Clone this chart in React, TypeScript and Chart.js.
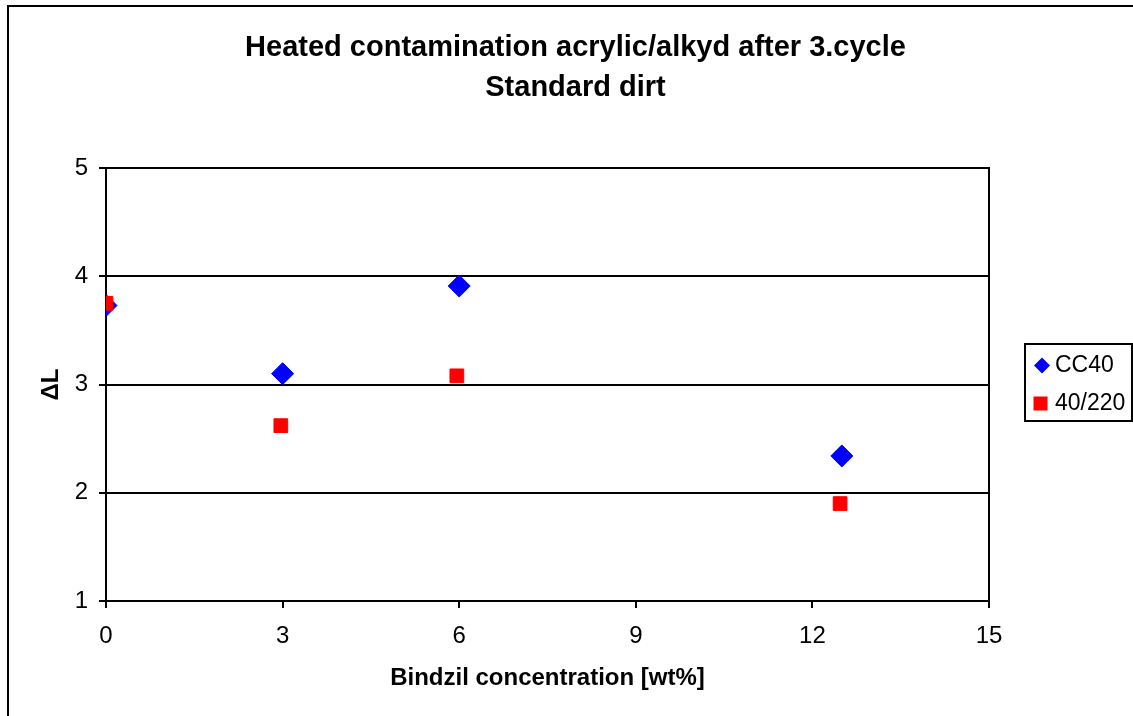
import React, { useEffect, useRef } from 'react';
import { Chart, registerables } from 'chart.js';

Chart.register(...registerables);

const FONT = "'Liberation Sans', Arial, sans-serif";

const titleLines = ['Heated contamination acrylic/alkyd after 3.cycle', 'Standard dirt'];
const xAxisTitle = 'Bindzil concentration [wt%]';
const yAxisTitle = 'ΔL';

const seriesNames = ['CC40', '40/220'];
const seriesColors = ['#0000FF', '#FF0000'];

const cc40X = [0, 3, 6, 12.5];
const cc40Y = [3.73, 3.1, 3.91, 2.34];
const s40220X = [0, 2.97, 5.96, 12.47];
const s40220Y = [3.75, 2.62, 3.08, 1.9];

const xMin = 0;
const xMax = 15;
const xStep = 3;
const yMin = 1;
const yMax = 5;
const yStep = 1;

const toPoints = (xs: number[], ys: number[]) => xs.map((x, i) => ({ x, y: ys[i] }));

const framePlugin = {
  id: 'frame',
  beforeDraw(chart: any) {
    const { ctx, width, height } = chart;
    ctx.save();
    ctx.fillStyle = '#ffffff';
    ctx.fillRect(0, 0, width, height);
    ctx.strokeStyle = '#000000';
    ctx.lineWidth = 2;
    ctx.beginPath();
    ctx.moveTo(8, height + 2);
    ctx.lineTo(8, 6);
    ctx.lineTo(width + 2, 6);
    ctx.stroke();
    ctx.restore();
  },
  beforeDatasetsDraw(chart: any) {
    const { ctx, chartArea } = chart;
    ctx.save();
    ctx.strokeStyle = '#000000';
    ctx.lineWidth = 2;
    ctx.beginPath();
    const r = Math.round(chartArea.right);
    ctx.moveTo(r, chartArea.top - 1);
    ctx.lineTo(r, chartArea.bottom + 7);
    ctx.stroke();
    ctx.restore();
  },
  afterDraw(chart: any) {
    const { ctx } = chart;
    const boxL = 1025;
    const boxT = 344;
    const boxW = 107;
    const boxH = 77;
    ctx.save();
    ctx.fillStyle = '#ffffff';
    ctx.fillRect(boxL, boxT, boxW, boxH);
    ctx.strokeStyle = '#000000';
    ctx.lineWidth = 2;
    ctx.strokeRect(boxL, boxT, boxW, boxH);
    const rowY = [365.5, 403.5];
    chart.data.datasets.forEach((ds: any, i: number) => {
      const cy = rowY[i];
      ctx.fillStyle = ds.backgroundColor;
      if (ds.pointStyle === 'rectRot') {
        const cx = 1042;
        const r = 8;
        ctx.beginPath();
        ctx.moveTo(cx - r, cy);
        ctx.lineTo(cx, cy - r);
        ctx.lineTo(cx + r, cy);
        ctx.lineTo(cx, cy + r);
        ctx.closePath();
        ctx.fill();
      } else {
        const cx = 1040.5;
        const s = 7;
        ctx.fillRect(cx - s, cy - s, 2 * s, 2 * s);
      }
      ctx.fillStyle = '#000000';
      ctx.font = `23px ${FONT}`;
      ctx.textAlign = 'left';
      ctx.textBaseline = 'middle';
      ctx.fillText(ds.label, 1055, cy);
    });
    ctx.restore();
  },
};

export default function App() {
  const ref = useRef<HTMLCanvasElement>(null);

  useEffect(() => {
    if (!ref.current) return;
    const chart = new Chart(ref.current, {
      type: 'scatter',
      data: {
        datasets: [
          {
            label: seriesNames[0],
            data: toPoints(cc40X, cc40Y),
            pointStyle: 'rectRot',
            pointRadius: 11,
            pointHoverRadius: 11,
            backgroundColor: seriesColors[0],
            borderColor: seriesColors[0],
            borderWidth: 1,
            order: 1,
          },
          {
            label: seriesNames[1],
            data: toPoints(s40220X, s40220Y),
            pointStyle: 'rect',
            pointRadius: 9.7,
            pointHoverRadius: 9.7,
            backgroundColor: seriesColors[1],
            borderColor: seriesColors[1],
            borderWidth: 1,
            order: 0,
          },
        ],
      },
      options: {
        animation: false,
        responsive: false,
        devicePixelRatio: 1,
        events: [],
        layout: { padding: { left: 18, top: 0, right: 0, bottom: 0 } },
        plugins: {
          legend: { display: false },
          tooltip: { enabled: false },
          title: {
            display: true,
            text: titleLines,
            color: '#000000',
            font: { family: FONT, size: 29, weight: 'bold', lineHeight: '39.5px' },
            padding: { top: 28.25, bottom: 60.75 },
          },
        },
        scales: {
          x: {
            type: 'linear',
            position: 'bottom',
            min: xMin,
            max: xMax,
            ticks: {
              stepSize: xStep,
              color: '#000000',
              font: { family: FONT, size: 24 },
              padding: 14,
              maxRotation: 0,
            },
            grid: {
              drawOnChartArea: false,
              drawTicks: true,
              tickLength: 7,
              color: '#000000',
              lineWidth: 2,
            },
            border: { display: true, color: '#000000', width: 2 },
            title: {
              display: true,
              text: xAxisTitle,
              color: '#000000',
              font: { family: FONT, size: 24, weight: 'bold' },
              padding: { top: 0, bottom: 23.6 },
            },
            afterFit: (s: any) => {
              s.height = 115;
            },
          },
          y: {
            type: 'linear',
            position: 'left',
            min: yMin,
            max: yMax,
            ticks: {
              stepSize: yStep,
              color: '#000000',
              font: { family: FONT, size: 24 },
              padding: 11,
            },
            grid: {
              drawTicks: true,
              tickLength: 7,
              color: '#000000',
              lineWidth: 2,
            },
            border: { display: true, color: '#000000', width: 2 },
            title: {
              display: true,
              text: yAxisTitle,
              color: '#000000',
              font: { family: FONT, size: 24, weight: 'bold' },
              padding: { top: 19, bottom: 0 },
            },
            afterFit: (s: any) => {
              s.width = 88;
            },
          },
          yRightSpace: {
            type: 'linear',
            position: 'right',
            min: yMin,
            max: yMax,
            display: true,
            ticks: { display: false },
            grid: { display: false, drawOnChartArea: false, drawTicks: false },
            border: { display: false },
            title: { display: false },
            afterFit: (s: any) => {
              s.width = 144;
            },
          },
        },
      },
      plugins: [framePlugin],
    });
    return () => chart.destroy();
  }, []);

  return (
    <canvas
      ref={ref}
      width={1133}
      height={716}
      style={{ position: 'fixed', left: 0, top: 0, width: 1133, height: 716, display: 'block' }}
    />
  );
}
